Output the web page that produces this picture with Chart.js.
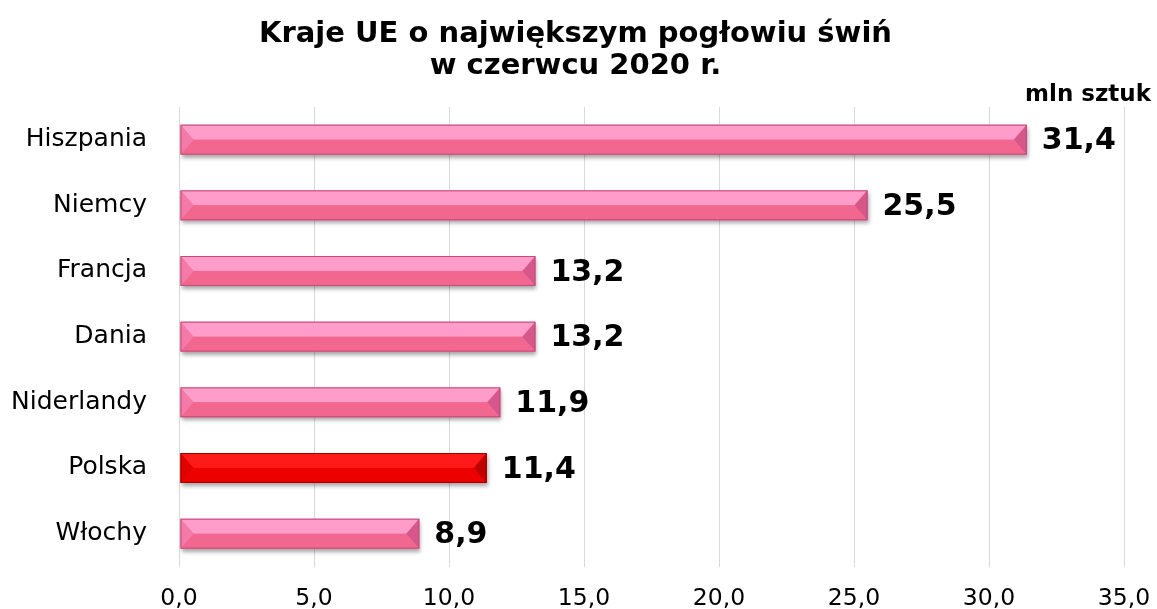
<!DOCTYPE html>
<html>
<head>
<meta charset="utf-8">
<script src="https://cdn.jsdelivr.net/npm/chart.js@4"></script>
<style>
  html, body { margin: 0; padding: 0; background: #fff; }
  #wrap { width: 1157px; height: 609px; }
</style>
</head>
<body>
<div id="wrap"><canvas id="pigChart"></canvas></div>
<script>
// Dane: pogłowie świń, czerwiec 2020 (mln sztuk)
const countries = ['Hiszpania', 'Niemcy', 'Francja', 'Dania', 'Niderlandy', 'Polska', 'Włochy'];
const pigs = [31.4, 25.5, 13.2, 13.2, 11.9, 11.4, 8.9];
const highlighted = 'Polska';
const titleLines = ['Kraje UE o największym pogłowiu świń', 'w czerwcu 2020 r.'];
const unitLabel = 'mln sztuk';

const FONT = "'DejaVu Sans', Verdana, sans-serif";

const pink = { base: '#F5709E', top: '#FF9DCA', bottom: '#F2678F', left: '#F47BA7', right: '#D6578A', edge: '#C24A7A' };
const red = { base: '#F00000', top: '#FF1A1A', bottom: '#EC0000', left: '#E00000', right: '#C00000', edge: '#A00000' };

function fmt(v) {
    return v.toFixed(1).replace('.', ',');
}

function paletteFor(i) {
    return countries[i] === highlighted ? red : pink;
}

// bevelled bars drawn over the library's bar elements
const bevelPlugin = {
    id: 'bevel',
    afterDatasetsDraw(chart) {
        const ctx = chart.ctx;
        const meta = chart.getDatasetMeta(0);
        meta.data.forEach((bar, i) => {
            const p = bar.getProps(['x', 'y', 'base', 'height'], true);
            const x0 = Math.min(p.base, p.x) + 1, x1 = Math.max(p.base, p.x);
            const y0 = p.y - p.height / 2, y1 = p.y + p.height / 2, ym = p.y;
            const b = Math.min(p.height / 2.3, (x1 - x0) / 2);
            const c = paletteFor(i);
            ctx.save();
            // shadow
            ctx.shadowColor = 'rgba(0,0,0,0.35)';
            ctx.shadowBlur = 4;
            ctx.shadowOffsetX = 1;
            ctx.shadowOffsetY = 3;
            ctx.fillStyle = c.base;
            ctx.fillRect(x0, y0, x1 - x0, y1 - y0);
            ctx.restore();

            ctx.save();
            const poly = (pts, col) => {
                ctx.beginPath();
                ctx.moveTo(pts[0][0], pts[0][1]);
                for (let k = 1; k < pts.length; k++) ctx.lineTo(pts[k][0], pts[k][1]);
                ctx.closePath();
                ctx.fillStyle = col;
                ctx.fill();
            };
            poly([[x0, y0], [x1, y0], [x1 - b, ym], [x0 + b, ym]], c.top);
            poly([[x0, y1], [x1, y1], [x1 - b, ym], [x0 + b, ym]], c.bottom);
            poly([[x0, y0], [x0 + b, ym], [x0, y1]], c.left);
            poly([[x1, y0], [x1 - b, ym], [x1, y1]], c.right);
            ctx.strokeStyle = c.edge;
            ctx.lineWidth = 1;
            ctx.strokeRect(x0 + 0.5, y0 + 0.5, x1 - x0 - 1, y1 - y0 - 1);
            ctx.restore();
        });
    }
};

const valueLabels = {
    id: 'valueLabels',
    afterDatasetsDraw(chart) {
        const ctx = chart.ctx;
        const meta = chart.getDatasetMeta(0);
        ctx.save();
        ctx.font = 'bold 30px ' + FONT;
        ctx.fillStyle = '#000';
        ctx.textAlign = 'left';
        ctx.textBaseline = 'middle';
        meta.data.forEach((bar, i) => {
            ctx.fillText(fmt(pigs[i]), bar.x + 15, bar.y + 2);
        });
        ctx.restore();
    }
};

new Chart(document.getElementById('pigChart'), {
    type: 'bar',
    data: {
        labels: countries,
        datasets: [{
            data: pigs,
            backgroundColor: 'rgba(0,0,0,0)',
            borderWidth: 0,
            barPercentage: 0.455,
            categoryPercentage: 1
        }]
    },
    options: {
        indexAxis: 'y',
        responsive: true,
        maintainAspectRatio: false,
        animation: false,
        layout: { padding: { left: 0, right: 6, top: 6, bottom: -23 } },
        plugins: {
            legend: { display: false },
            tooltip: { enabled: false },
            title: {
                display: true,
                text: titleLines,
                color: '#000',
                font: { family: FONT, size: 29, weight: 'bold', lineHeight: 1.1 },
                padding: { top: 13, bottom: 0 }
            },
            subtitle: {
                display: true,
                text: unitLabel,
                align: 'end',
                color: '#000',
                font: { family: FONT, size: 23, weight: 'bold', lineHeight: 1.0 },
                padding: { top: 1, bottom: 0 }
            }
        },
        scales: {
            x: {
                min: 0,
                max: 35,
                afterFit: (scale) => { scale.paddingLeft = 0; scale.paddingRight = 33; },
                ticks: {
                    stepSize: 5,
                    color: '#000',
                    font: { family: FONT, size: 23.5, lineHeight: 1.0 },
                    padding: 21,
                    callback: (v) => fmt(v)
                },
                grid: { color: '#D9D9D9', lineWidth: 1, drawTicks: false },
                border: { display: false }
            },
            y: {
                afterFit: (scale) => { scale.width = 179; scale.paddingTop = 0; scale.paddingBottom = 0; },
                ticks: {
                    color: '#000',
                    font: { family: FONT, size: 25 },
                    padding: 32
                },
                grid: { display: false, drawTicks: false },
                border: { display: false }
            }
        }
    },
    plugins: [bevelPlugin, valueLabels]
});
</script>
</body>
</html>
